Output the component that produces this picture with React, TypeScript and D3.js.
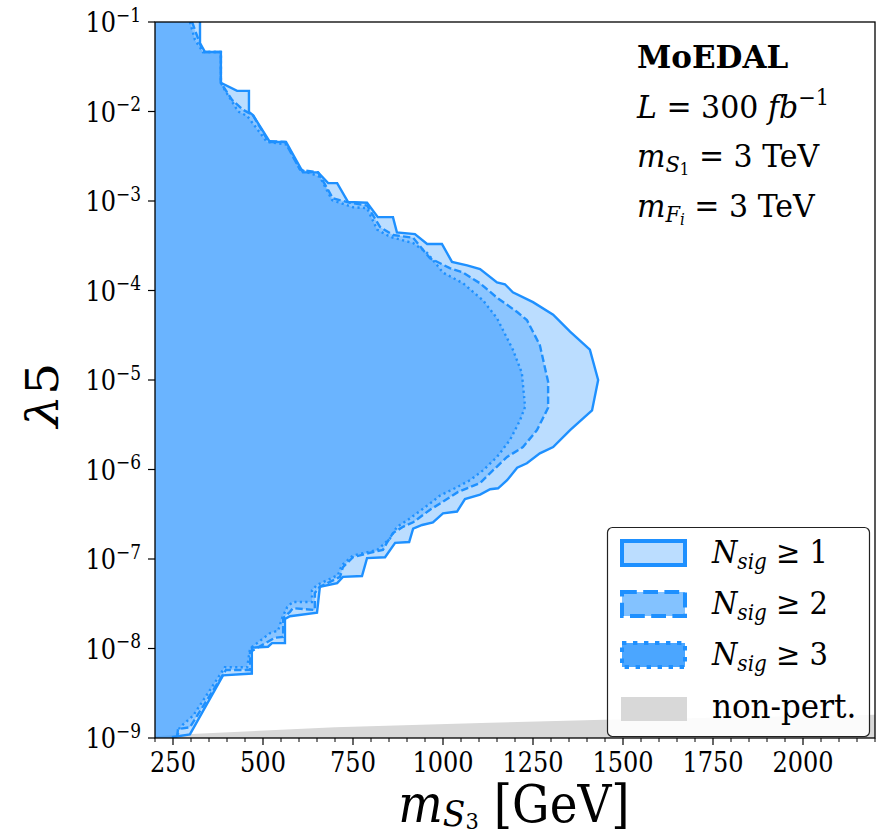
import React from "react";
import * as d3 from "d3";

// N_sig >= 1 boundary, read top to bottom (mass in GeV, log10 of lambda5)
const nsig1Mass = [325, 325, 339, 383, 383, 428, 461, 461, 472, 519, 564, 611, 653, 681, 706, 736, 789, 819, 861, 872, 922, 956, 997, 1025, 1067, 1103, 1150, 1172, 1194, 1250, 1306, 1353, 1408, 1431, 1414, 1353, 1306, 1269, 1233, 1206, 1178, 1153, 1131, 1103, 1061, 1039, 1000, 972, 942, 917, 906, 867, 839, 789, 775, 722, 706, 658, 650, 575, 561, 561, 525, 514, 469, 469, 389, 297, 250, 250];
const nsig1Exp = [-1.0, -1.235, -1.335, -1.335, -1.68, -1.77, -1.77, -2.005, -2.04, -2.34, -2.34, -2.68, -2.68, -2.8, -2.8, -3.01, -3.02, -3.18, -3.18, -3.35, -3.37, -3.48, -3.48, -3.68, -3.72, -3.76, -3.91, -3.93, -4.02, -4.13, -4.27, -4.46, -4.66, -5.0, -5.34, -5.56, -5.75, -5.82, -5.93, -5.98, -6.12, -6.21, -6.22, -6.28, -6.33, -6.47, -6.49, -6.59, -6.62, -6.66, -6.81, -6.82, -6.98, -6.99, -7.19, -7.2, -7.27, -7.31, -7.6, -7.64, -7.67, -7.94, -7.94, -7.98, -7.99, -8.28, -8.3, -8.96, -8.99, -9.0];

// N_sig >= 2
const nsig2Mass = [303, 333, 383, 383, 414, 444, 472, 514, 561, 603, 653, 694, 742, 789, 825, 861, 917, 964, 1019, 1056, 1103, 1150, 1206, 1233, 1269, 1292, 1292, 1261, 1222, 1178, 1131, 1103, 1042, 1019, 964, 917, 889, 861, 844, 833, 797, 750, 722, 714, 658, 644, 644, 583, 575, 556, 556, 533, 464, 464, 397, 297, 264, 261, 261];
const nsig2Exp = [-1.0, -1.335, -1.335, -1.68, -1.87, -1.98, -2.04, -2.33, -2.34, -2.65, -2.68, -2.97, -3.02, -3.05, -3.29, -3.38, -3.41, -3.64, -3.75, -3.8, -3.92, -4.08, -4.24, -4.33, -4.61, -5.02, -5.31, -5.56, -5.75, -5.86, -6.04, -6.15, -6.25, -6.31, -6.45, -6.59, -6.64, -6.71, -6.82, -6.9, -6.93, -6.98, -7.09, -7.2, -7.31, -7.38, -7.57, -7.55, -7.59, -7.66, -7.87, -7.88, -8.04, -8.24, -8.24, -8.88, -8.9, -8.99, -9.0];

// N_sig >= 3
const nsig3Mass = [297, 311, 333, 383, 383, 394, 431, 456, 511, 567, 603, 658, 692, 750, 789, 817, 853, 917, 956, 1000, 1056, 1111, 1150, 1194, 1219, 1228, 1214, 1186, 1150, 1111, 1075, 1033, 992, 964, 900, 872, 853, 817, 750, 719, 708, 650, 636, 636, 583, 567, 553, 542, 519, 464, 456, 394, 306, 269, 261, 261];
const nsig3Exp = [-1.0, -1.2, -1.335, -1.335, -1.68, -1.76, -2.0, -2.05, -2.34, -2.37, -2.65, -2.73, -2.99, -3.07, -3.08, -3.32, -3.4, -3.47, -3.58, -3.8, -3.92, -4.11, -4.31, -4.66, -4.92, -5.3, -5.45, -5.67, -5.86, -6.01, -6.12, -6.21, -6.29, -6.38, -6.57, -6.64, -6.77, -6.9, -6.96, -7.07, -7.18, -7.29, -7.35, -7.48, -7.48, -7.54, -7.66, -7.8, -7.83, -8.0, -8.21, -8.21, -8.75, -8.88, -8.99, -9.0];

// non-perturbative region upper edge
const nonPertMass = [200, 300, 700, 1130, 1500, 2200];
const nonPertExp = [-8.98, -8.955, -8.88, -8.83, -8.79, -8.74];

const xTicks = [250, 500, 750, 1000, 1250, 1500, 1750, 2000];
const yTickExps = [-1, -2, -3, -4, -5, -6, -7, -8, -9];

const legendLabels = ["1", "2", "3"];

const W = 879;
const H = 835;
const left = 155, right = 875, top = 22, bottom = 738;
const S = 1.16; // vertical text stretch
const BLUE = "#1E90FF";
const SERIF = "'DejaVu Serif', serif";

const x = d3.scaleLinear().domain([200, 2200]).range([left, right]);
const y = d3.scaleLinear().domain([-1, -9]).range([top, bottom]);

const T = ({ x: tx, y: ty, rot, sy, children, ...rest }: any) => (
  <text
    transform={`translate(${tx},${ty}) scale(1,${sy ?? S})${rot ? ` rotate(${rot})` : ""}`}
    fontFamily={SERIF}
    {...rest}
  >
    {children}
  </text>
);

function boundary(ms: number[], es: number[]) {
  return ms.map((m, i) => [m, es[i]] as [number, number]);
}

export default function App() {
  const line = d3.line<[number, number]>().x((d) => x(d[0])).y((d) => y(d[1]));
  const series = [
    { pts: boundary(nsig1Mass, nsig1Exp), dash: null },
    { pts: boundary(nsig2Mass, nsig2Exp), dash: "7.4,3.2" },
    { pts: boundary(nsig3Mass, nsig3Exp), dash: "2.2,3.3" },
  ];
  const np = boundary(nonPertMass, nonPertExp);
  const npArea = [...np, [2200, -9], [200, -9]] as [number, number][];

  const minor = d3.range(200, 2201, 50).filter((v) => v % 250 !== 0);

  const legY = [553, 604, 655, 709];

  return (
    <svg width={W} height={H} style={{ position: "absolute", left: 0, top: 0, background: "#fff" }}>
      <defs>
        <clipPath id="plot">
          <rect x={left} y={top} width={right - left} height={bottom - top} />
        </clipPath>
      </defs>
      <g clipPath="url(#plot)">
        <path d={line(npArea) + "Z"} fill="#d8d8d8" />
        {series.map((s, i) => (
          <path
            key={"f" + i}
            d={line([...s.pts, [200, -9], [200, -1]]) + "Z"}
            fill={BLUE}
            fillOpacity={0.3}
          />
        ))}
        {series.map((s, i) => (
          <path
            key={"l" + i}
            d={line(s.pts) || ""}
            fill="none"
            stroke={BLUE}
            strokeWidth={2.4}
            strokeDasharray={s.dash || undefined}
          />
        ))}
      </g>

      {/* frame */}
      <rect x={left} y={top} width={right - left} height={bottom - top} fill="none" stroke="#000" strokeWidth={1.3} />

      {/* x ticks */}
      {xTicks.map((v) => (
        <g key={v}>
          <line x1={x(v)} x2={x(v)} y1={bottom} y2={bottom + 7} stroke="#000" strokeWidth={1.2} />
          <T x={x(v)} y={772} textAnchor="middle" fontSize={24}>{v}</T>
        </g>
      ))}
      {minor.map((v) => (
        <line key={v} x1={x(v)} x2={x(v)} y1={bottom} y2={bottom + 4} stroke="#000" strokeWidth={1} />
      ))}

      {/* y ticks */}
      {yTickExps.map((e) => (
        <g key={e}>
          <line x1={left - 7} x2={left} y1={y(e)} y2={y(e)} stroke="#000" strokeWidth={1.2} />
          <T x={141} y={y(e) + 10} textAnchor="end" fontSize={24}>
            10<tspan dy={-9} fontSize={17}>{"\u2212" + -e}</tspan>
          </T>
        </g>
      ))}

      {/* axis labels */}
      <T x={514} y={822} sy={1.1} textAnchor="middle" fontSize={47}>
        <tspan fontStyle="italic">m</tspan>
        <tspan fontStyle="italic" fontSize={33} dy={4}>S</tspan>
        <tspan fontSize={21} dy={2}>3</tspan>
        <tspan dy={-6}>{" [GeV]"}</tspan>
      </T>
      <T x={58} y={395} rot={-90} textAnchor="middle" fontSize={44}>
        <tspan fontStyle="italic">λ</tspan>
        <tspan>5</tspan>
      </T>

      {/* annotation */}
      <T x={637} y={68} sy={1.05} fontSize={31} fontWeight="bold">MoEDAL</T>
      <T x={637} y={118} sy={1.05} fontSize={30}>
        <tspan fontStyle="italic">L</tspan> = 300 <tspan fontStyle="italic">fb</tspan>
        <tspan fontSize={21} dy={-12}>{"\u22121"}</tspan>
      </T>
      <T x={637} y={167} sy={1.05} fontSize={30}>
        <tspan fontStyle="italic">m</tspan>
        <tspan fontStyle="italic" fontSize={21} dy={5}>S</tspan>
        <tspan fontSize={15} dy={3}>1</tspan>
        <tspan dy={-8}> = 3 TeV</tspan>
      </T>
      <T x={637} y={217} sy={1.05} fontSize={30}>
        <tspan fontStyle="italic">m</tspan>
        <tspan fontStyle="italic" fontSize={21} dy={5}>F</tspan>
        <tspan fontStyle="italic" fontSize={15} dy={3}>i</tspan>
        <tspan dy={-8}> = 3 TeV</tspan>
      </T>

      {/* legend */}
      <rect x={607.5} y={527.5} width={262} height={209} rx={5} fill="#fff" fillOpacity={0.9} stroke="#222" strokeWidth={1.2} />
      {legendLabels.map((lab, i) => (
        <g key={lab}>
          <rect
            x={622}
            y={legY[i] - 12}
            width={63}
            height={24}
            fill={BLUE}
            fillOpacity={[0.3, 0.55, 0.8][i]}
            stroke={BLUE}
            strokeWidth={4}
            strokeDasharray={series[i].dash ? series[i].dash!.split(",").map((d) => +d * 2).join(",") : undefined}
          />
          <T x={712} y={legY[i] + 10} sy={1.08} fontSize={29}>
            <tspan fontStyle="italic">N</tspan>
            <tspan fontStyle="italic" fontSize={20} dy={6}>sig</tspan>
            <tspan dy={-6}>{" \u2265 " + lab}</tspan>
          </T>
        </g>
      ))}
      <rect x={621} y={legY[3] - 12} width={66} height={24} fill="#d8d8d8" />
      <T x={712} y={legY[3] + 9} sy={1.08} fontSize={31}>non-pert.</T>
    </svg>
  );
}
